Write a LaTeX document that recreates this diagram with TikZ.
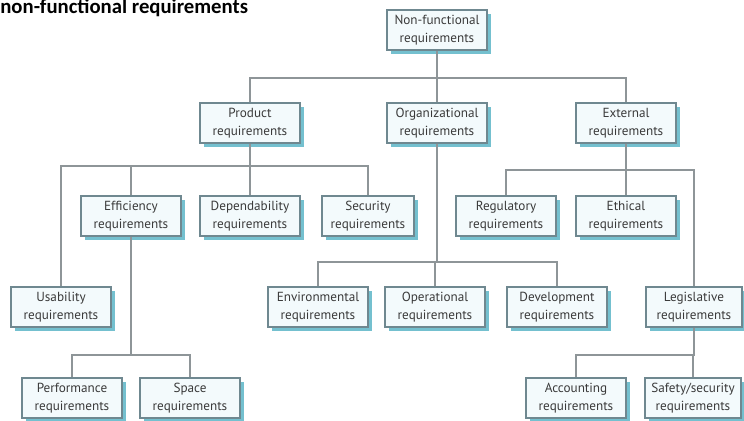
\documentclass[tikz,border=0pt]{standalone}
\usepackage{fontspec}
\setmainfont{PT Sans}
\newfontfamily\titlefont{Carlito}
\usepackage{tikz}
\usetikzlibrary{positioning,calc,shadows}
\definecolor{nfrfill}{HTML}{F3FAFC}
\definecolor{nfrborder}{HTML}{6F8890}
\definecolor{nfrshadow}{HTML}{74C0CF}
\definecolor{nfrline}{HTML}{8E9598}
\definecolor{nfrtext}{HTML}{3A3A3A}

\begin{document}
\begin{tikzpicture}[
    x=0.02cm, y=-0.02cm,
    req/.style={draw=nfrborder, line width=0.6pt, fill=nfrfill, minimum width=2cm, minimum height=0.8cm,
        inner sep=1pt, align=center, text=nfrtext, font=\fontsize{7.5}{10.5}\selectfont,
        drop shadow={shadow xshift=2pt, shadow yshift=-2pt, fill=nfrshadow, opacity=1}},
    link/.style={draw=nfrline, line width=0.8pt}
]
    \useasboundingbox (0,0) rectangle (744,421);

    % Title
    \node[anchor=base west, inner sep=0pt, font=\titlefont\bfseries\fontsize{11.8}{14}\selectfont] (title) at (0,14) {non-functional requirements};

    % Top and second row
    \node[req] (root) at (437,30) {Non-functional\\requirements};
    \node[req] (product) at (250,123) {Product\\requirements};
    \node[req] (org) at (437,123) {Organizational\\requirements};
    \node[req] (ext) at (626,123) {External\\requirements};

    % Product requirements
    \node[req] (efficiency) at (131,216) {Efficiency\\requirements};
    \node[req] (depend) at (250,216) {Dependability\\requirements};
    \node[req, minimum width=1.84cm] (security) at (368,216) {Security\\requirements};
    \node[req] (usability) at (61,307) {Usability\\requirements};
    \node[req] (performance) at (72,398) {Performance\\requirements};
    \node[req] (space) at (190,398) {Space\\requirements};

    % Organizational requirements
    \node[req] (environ) at (318,307) {Environmental\\requirements};
    \node[req] (operational) at (435,307) {Operational\\requirements};
    \node[req] (develop) at (557,307) {Development\\requirements};

    % External requirements
    \node[req] (regulatory) at (506,216) {Regulatory\\requirements};
    \node[req] (ethical) at (626,216) {Ethical\\requirements};
    \node[req, minimum width=1.92cm] (legislative) at (694,307) {Legislative\\requirements};
    \node[req] (accounting) at (576,398) {Accounting\\requirements};
    \node[req, minimum width=1.92cm] (safety) at (693,398) {Safety/security\\requirements};

    % Bus lines
    \coordinate (bus0) at (437,78);
    \coordinate (bus1) at (250,166);
    \coordinate (bus2) at (131,355);
    \coordinate (bus3) at (437,262);
    \coordinate (bus4) at (626,170);
    \coordinate (bus5) at (694,355);

    \draw[link] (root.south) -- (bus0) -| (product.north);
    \draw[link] (bus0) -| (ext.north);
    \draw[link] (bus0) -- (org.north);

    \draw[link] (product.south) -- (bus1) -| (usability.north);
    \draw[link] (bus1) -| (security.north);
    \draw[link] (bus1 -| efficiency.north) -- (efficiency.north);
    \draw[link] (bus1) -- (depend.north);

    \draw[link] (efficiency.south) -- (bus2) -| (performance.north);
    \draw[link] (bus2) -| (space.north);

    \draw[link] (org.south) -- (bus3) -| (environ.north);
    \draw[link] (bus3) -| (develop.north);
    \draw[link] (bus3 -| operational.north) -- (operational.north);

    \draw[link] (ext.south) -- (bus4) -| (regulatory.north);
    \draw[link] (bus4) -| (legislative.north);
    \draw[link] (bus4) -- (ethical.north);

    \draw[link] (legislative.south) -- (bus5) -| (accounting.north);
    \draw[link] (bus5) -- (bus5 -| safety.north) -- (safety.north);
\end{tikzpicture}
\end{document}
